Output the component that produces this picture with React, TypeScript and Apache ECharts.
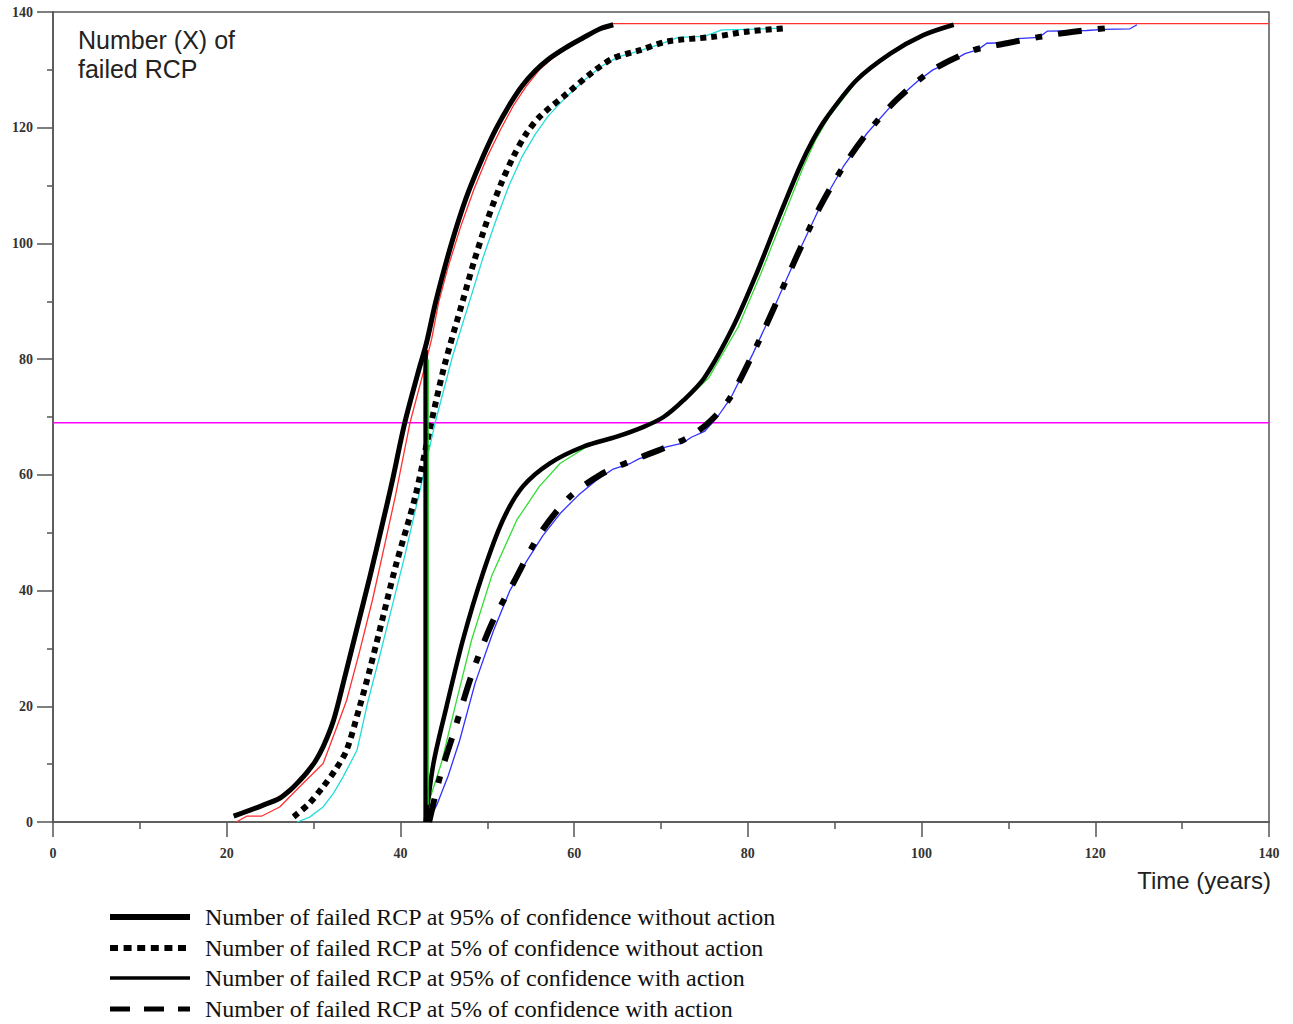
import React, { useEffect, useRef } from "react";
import * as echarts from "echarts";

// ---------------- data ----------------
const X_MIN = 0;
const X_MAX = 140;
const Y_MIN = 0;
const Y_MAX = 140;
const TICK_STEP = 20;

const THRESHOLD = 69; // magenta horizontal line

// 95% without action (thick black)
const black95NoAction: number[][] = [
  [20.8, 1.0], [24.0, 2.8], [26.1, 4.1], [27.3, 5.5], [28.3, 7.0], [29.2, 8.5],
  [30.2, 10.5], [31.1, 13.0], [32.3, 17.6], [33.5, 24.5], [35.0, 33.5], [36.5, 42.5],
  [38.0, 52.0], [39.0, 58.5], [40.5, 69.0], [42.0, 77.5], [43.0, 82.8], [44.0, 89.5],
  [45.0, 95.3], [46.0, 100.6], [47.0, 105.4], [48.0, 109.6], [49.5, 115.0], [51.0, 119.8],
  [52.5, 123.8], [54.0, 127.2], [55.5, 129.8], [57.0, 131.8], [59.0, 133.8], [61.0, 135.5],
  [63.0, 137.1], [64.5, 137.8],
];

// 95% without action (thin red, continues along the plateau)
const red95NoAction: number[][] = [
  [21.1, 0], [22.3, 1.0], [24.0, 1.0], [26.1, 2.6], [28.4, 6.1], [31.1, 10.1],
  [32.7, 16.5], [33.8, 21.0], [35.3, 29.5], [36.8, 38.5], [38.2, 48.0], [39.4, 56.2],
  [41.1, 69.0], [42.6, 77.5], [43.6, 83.5], [44.4, 89.8], [45.5, 96.0], [47.0, 103.2],
  [48.5, 109.5], [50.0, 115.0], [51.5, 119.6], [53.0, 123.8], [54.5, 127.2], [56.0, 130.0],
  [57.5, 132.0], [59.5, 134.0], [61.5, 135.8], [63.5, 137.4], [64.5, 138.0], [140, 138.0],
];

// 5% without action (thick dotted)
const dotted5NoAction: number[][] = [
  [27.7, 0.9], [29.5, 3.2], [31.1, 6.1], [32.5, 9.0], [33.8, 12.4], [35.3, 19.9],
  [36.5, 26.5], [38.0, 35.5], [39.5, 44.5], [41.7, 56.2], [43.4, 68.0], [45.0, 78.5],
  [47.2, 90.2], [48.5, 97.0], [50.0, 104.0], [51.5, 110.0], [53.0, 115.0], [54.5, 119.0],
  [56.1, 122.0], [59.1, 125.8], [62.2, 129.7], [64.5, 132.0], [67.6, 133.4], [70.7, 134.9],
  [76.0, 135.7], [79.9, 136.6], [84.3, 137.2],
];

// 5% without action (thin cyan)
const cyan5NoAction: number[][] = [
  [28.1, 0], [29.5, 0.8], [31.1, 2.6], [32.3, 5.0], [33.4, 7.8], [35.0, 12.4],
  [36.3, 21.1], [37.5, 28.0], [39.0, 37.0], [40.5, 46.0], [42.2, 57.0], [44.0, 69.0],
  [46.0, 80.5], [48.0, 90.2], [49.5, 97.5], [51.0, 104.0], [52.5, 110.0], [54.0, 115.0],
  [55.5, 118.8], [57.0, 122.0], [59.0, 125.2], [61.0, 128.0], [63.0, 130.5], [65.0, 132.2],
  [67.5, 133.3], [70.0, 134.5], [72.0, 135.6], [75.0, 135.8], [77.0, 136.9], [80.0, 137.0],
  [84.0, 137.2],
];

// action taken at year ~43: vertical drop
const dropBlack: number[][] = [[42.9, 81.6], [42.9, 0]];
const dropGreen: number[][] = [[43.2, 80.0], [43.2, 3.0]];

// 95% with action (thick black)
const black95WithAction: number[][] = [
  [42.9, 0], [43.8, 10.1], [45.3, 19.9], [47.2, 31.5], [49.5, 43.0], [51.8, 52.2],
  [54.1, 58.0], [57.2, 62.0], [61.1, 64.9], [64.9, 66.6], [68.0, 68.3], [70.3, 70.0],
  [72.6, 72.9], [75.0, 76.8], [78.3, 85.6], [81.0, 94.8], [83.7, 105.0], [86.0, 113.3],
  [87.5, 117.9], [89.1, 121.8], [92.5, 128.2], [96.4, 132.8], [100.2, 136.0], [103.7, 137.8],
];

// 95% with action (thin green)
const green95WithAction: number[][] = [
  [43.2, 3.0], [43.6, 5.0], [44.7, 10.1], [46.3, 20.0], [48.2, 31.5], [50.5, 42.5],
  [53.4, 52.2], [56.0, 58.0], [58.4, 62.0], [61.5, 64.9], [65.0, 66.6], [68.0, 68.3],
  [70.5, 70.0], [72.8, 72.9], [75.5, 76.8], [78.9, 85.6], [81.5, 94.8], [84.2, 105.0],
  [86.4, 113.3], [87.8, 117.9], [89.3, 121.8], [92.6, 128.2], [96.4, 132.8], [100.2, 136.0],
  [103.7, 138.0],
];

// 5% with action (thick dash-dot)
const dashed5WithAction: number[][] = [
  [43.3, 0], [44.6, 8.1], [46.1, 15.3], [48.4, 26.3], [50.7, 34.9], [53.0, 41.3],
  [56.1, 49.9], [59.5, 56.2], [63.0, 60.0], [66.4, 62.3], [70.3, 64.6], [73.3, 66.6],
  [75.6, 69.2], [77.9, 73.2], [80.6, 81.0], [82.9, 88.5], [85.6, 97.7], [88.3, 106.3],
  [91.0, 113.3], [93.7, 119.0], [97.1, 124.8], [101.3, 130.0], [106.0, 133.4], [109.8, 134.6],
  [113.6, 135.7], [117.5, 136.6], [122.0, 137.3],
];

// 5% with action (thin blue, stepwise)
const blue5WithAction: number[][] = [
  [43.2, 0], [44.2, 3.0], [45.5, 8.0], [46.8, 14.0], [48.6, 24.0], [50.7, 33.0],
  [52.6, 40.0], [54.5, 45.0], [56.4, 49.5], [58.5, 53.5], [60.5, 56.5], [62.5, 59.0],
  [64.5, 61.0], [66.5, 62.0], [67.5, 62.8], [69.0, 63.5], [70.5, 64.8], [72.5, 65.5],
  [73.5, 66.5], [75.0, 67.5], [76.5, 70.0], [78.0, 73.2], [80.6, 81.0], [82.9, 88.5],
  [85.6, 97.7], [88.3, 106.3], [91.0, 113.3], [93.7, 119.0], [97.1, 124.8], [99.5, 128.0],
  [101.3, 130.0], [103.5, 131.5], [105.0, 132.8], [106.5, 133.5], [107.5, 134.6], [110.0, 134.7],
  [111.0, 135.4], [113.5, 135.6], [114.5, 136.7], [119.0, 136.8], [121.0, 137.0], [124.0, 137.1],
  [124.8, 137.8],
];

const thresholdLine: number[][] = [[X_MIN, THRESHOLD], [X_MAX, THRESHOLD]];

const Y_TITLE = "Number (X) of\nfailed RCP";
const X_TITLE = "Time (years)";
const LEGEND_LABELS = [
  "Number of failed RCP at 95% of confidence without action",
  "Number of failed RCP at 5% of confidence without action",
  "Number of failed RCP at 95% of confidence with action",
  "Number of failed RCP at 5% of confidence with action",
];

// ---------------- component ----------------
export default function App() {
  const ref = useRef<HTMLDivElement>(null);

  useEffect(() => {
    if (!ref.current) return;
    const chart = echarts.init(ref.current, null, { renderer: "svg" });

    const axisColor = "#555";
    const tickLabel = {
      fontFamily: "Liberation Serif",
      fontSize: 14,
      fontWeight: "bold" as const,
      color: "#333",
    };

    const line = (
      name: string,
      data: number[][],
      color: string,
      width: number,
      type: any = "solid",
      z = 2,
      smooth: number | boolean = false
    ) => ({
      name,
      type: "line",
      data,
      symbol: "none",
      smooth,
      z,
      silent: true,
      lineStyle: { color, width, type, cap: "butt", join: "round" },
    });

    const legendY = [917, 948, 978, 1009];
    const legendStyles = [
      { lineWidth: 6, lineDash: null as any },
      { lineWidth: 6, lineDash: [8, 5.6] },
      { lineWidth: 3.5, lineDash: null as any },
      { lineWidth: 5, lineDash: [20, 14] },
    ];

    const graphics: any[] = [
      {
        type: "text",
        left: 78,
        top: 25,
        style: {
          text: Y_TITLE,
          font: "25px 'Liberation Sans'",
          fill: "#222",
          lineHeight: 29,
        },
      },
      {
        type: "text",
        x: 1271,
        y: 868,
        style: {
          text: X_TITLE,
          font: "24px 'Liberation Sans'",
          fill: "#222",
          textAlign: "right",
          textVerticalAlign: "top",
        },
      },
    ];
    LEGEND_LABELS.forEach((label, i) => {
      graphics.push({
        type: "line",
        shape: { x1: 110, y1: legendY[i], x2: 190, y2: legendY[i] },
        style: {
          stroke: "#000",
          lineWidth: legendStyles[i].lineWidth,
          lineDash: legendStyles[i].lineDash,
          lineCap: "butt",
        },
      });
      graphics.push({
        type: "text",
        x: 205,
        y: legendY[i],
        style: {
          text: label,
          font: "24px 'Liberation Serif'",
          fill: "#111",
          textVerticalAlign: "middle",
        },
      });
    });

    chart.setOption({
      animation: false,
      backgroundColor: "#fff",
      grid: {
        left: 53,
        right: 24,
        top: 12,
        bottom: 202,
        show: true,
        borderColor: axisColor,
        borderWidth: 1.5,
      },
      xAxis: {
        type: "value",
        min: X_MIN,
        max: X_MAX,
        interval: TICK_STEP,
        axisLine: { show: true, lineStyle: { color: axisColor, width: 1.5 } },
        axisTick: { show: true, length: 15, lineStyle: { color: axisColor, width: 1.5 } },
        minorTick: { show: true, splitNumber: 2, length: 7, lineStyle: { color: axisColor, width: 1.5 } },
        splitLine: { show: false },
        axisLabel: { ...tickLabel, margin: 24 },
      },
      yAxis: {
        type: "value",
        min: Y_MIN,
        max: Y_MAX,
        interval: TICK_STEP,
        axisLine: { show: true, lineStyle: { color: axisColor, width: 1.5 } },
        axisTick: { show: true, length: 16, lineStyle: { color: axisColor, width: 1.5 } },
        minorTick: { show: true, splitNumber: 2, length: 6, lineStyle: { color: axisColor, width: 1.5 } },
        splitLine: { show: false },
        axisLabel: { ...tickLabel, margin: 20 },
      },
      series: [
        line("threshold", thresholdLine, "#ff00ff", 1.5, "solid", 1),
        line("red95", red95NoAction, "#ff3030", 1.3, "solid", 2),
        line("cyan5", cyan5NoAction, "#22dddd", 1.3, "solid", 2),
        line("blue5", blue5WithAction, "#3030ff", 1.3, "solid", 2),
        line("black95", black95NoAction, "#000", 5, "solid", 3, 0.3),
        line("dotted5", dotted5NoAction, "#000", 6, [6, 5], 3, 0.3),
        line("dropBlack", dropBlack, "#000", 4.5, "solid", 3),
        line("black95a", black95WithAction, "#000", 4.5, "solid", 3, 0.3),
        line("dashed5a", dashed5WithAction, "#000", 6, [24, 16, 7, 16], 3, 0.3),
        line("dropGreen", dropGreen, "#22cc22", 1.3, "solid", 4),
        line("green95a", green95WithAction, "#33dd33", 1.3, "solid", 2),
      ],
      graphic: graphics,
    });

    return () => chart.dispose();
  }, []);

  return (
    <div
      ref={ref}
      style={{ position: "fixed", left: 0, top: 0, width: 1293, height: 1024, background: "#fff" }}
    />
  );
}
